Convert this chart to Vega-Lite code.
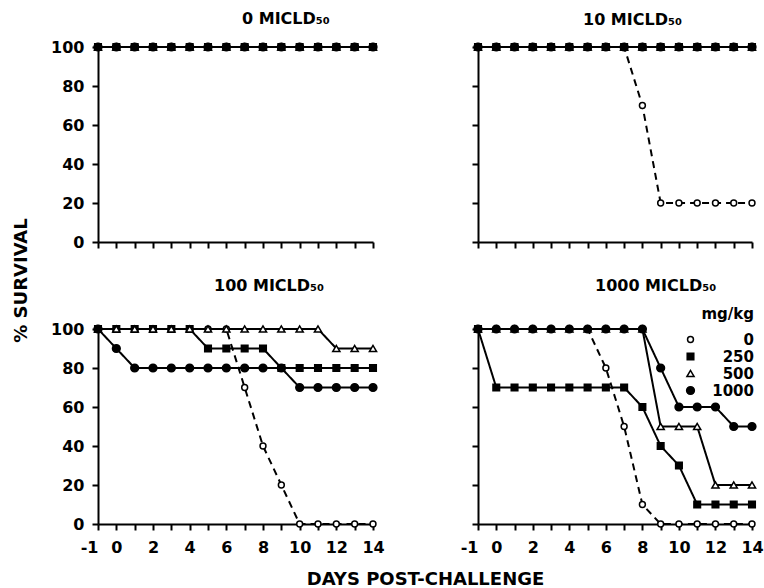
{
  "$schema": "https://vega.github.io/schema/vega-lite/v6.json",
  "background": "white",
  "padding": {"left": 12, "top": 11, "right": 0, "bottom": 5},
  "bounds": "flush",
  "columns": 2,
  "spacing": {"row": 87, "column": 105},
  "config": {
    "view": {"stroke": null},
    "font": "DejaVu Sans",
    "axis": {"domainColor": "black", "domainWidth": 2, "tickColor": "black", "tickWidth": 2, "tickSize": 6, "labelColor": "black", "labelFont": "DejaVu Sans", "labelFontSize": 16, "labelFontWeight": "bold", "grid": false, "titleColor": "black", "titleFont": "DejaVu Sans", "titleFontSize": 18, "titleFontWeight": "bold"},
    "axisY": {"labelPadding": 8},
    "axisX": {"labelPadding": 9},
    "title": {"font": "DejaVu Sans", "fontSize": 16, "fontWeight": "bold", "color": "black", "anchor": "start", "frame": "group"},
    "legend": {"labelFont": "DejaVu Sans", "labelFontSize": 15, "labelFontWeight": "bold", "labelColor": "black", "titleFont": "DejaVu Sans", "titleFontSize": 15, "titleFontWeight": "bold", "titleColor": "black", "symbolStrokeColor": "black", "symbolStrokeWidth": 1.5}
  },
  "resolve": {
    "scale": {"shape": "independent", "fill": "independent", "size": "independent", "stroke": "independent", "strokeDash": "independent"},
    "legend": {"shape": "independent", "fill": "independent", "size": "independent", "stroke": "independent", "strokeDash": "independent"}
  },
  "datasets": {
    "A": [
      {"g":"0","d":-1,"s":100},{"g":"0","d":0,"s":100},{"g":"0","d":1,"s":100},{"g":"0","d":2,"s":100},{"g":"0","d":3,"s":100},{"g":"0","d":4,"s":100},{"g":"0","d":5,"s":100},{"g":"0","d":6,"s":100},{"g":"0","d":7,"s":100},{"g":"0","d":8,"s":100},{"g":"0","d":9,"s":100},{"g":"0","d":10,"s":100},{"g":"0","d":11,"s":100},{"g":"0","d":12,"s":100},{"g":"0","d":13,"s":100},{"g":"0","d":14,"s":100},
      {"g":"250","d":-1,"s":100},{"g":"250","d":0,"s":100},{"g":"250","d":1,"s":100},{"g":"250","d":2,"s":100},{"g":"250","d":3,"s":100},{"g":"250","d":4,"s":100},{"g":"250","d":5,"s":100},{"g":"250","d":6,"s":100},{"g":"250","d":7,"s":100},{"g":"250","d":8,"s":100},{"g":"250","d":9,"s":100},{"g":"250","d":10,"s":100},{"g":"250","d":11,"s":100},{"g":"250","d":12,"s":100},{"g":"250","d":13,"s":100},{"g":"250","d":14,"s":100},
      {"g":"500","d":-1,"s":100},{"g":"500","d":0,"s":100},{"g":"500","d":1,"s":100},{"g":"500","d":2,"s":100},{"g":"500","d":3,"s":100},{"g":"500","d":4,"s":100},{"g":"500","d":5,"s":100},{"g":"500","d":6,"s":100},{"g":"500","d":7,"s":100},{"g":"500","d":8,"s":100},{"g":"500","d":9,"s":100},{"g":"500","d":10,"s":100},{"g":"500","d":11,"s":100},{"g":"500","d":12,"s":100},{"g":"500","d":13,"s":100},{"g":"500","d":14,"s":100},
      {"g":"1000","d":-1,"s":100},{"g":"1000","d":0,"s":100},{"g":"1000","d":1,"s":100},{"g":"1000","d":2,"s":100},{"g":"1000","d":3,"s":100},{"g":"1000","d":4,"s":100},{"g":"1000","d":5,"s":100},{"g":"1000","d":6,"s":100},{"g":"1000","d":7,"s":100},{"g":"1000","d":8,"s":100},{"g":"1000","d":9,"s":100},{"g":"1000","d":10,"s":100},{"g":"1000","d":11,"s":100},{"g":"1000","d":12,"s":100},{"g":"1000","d":13,"s":100},{"g":"1000","d":14,"s":100}
    ],
    "B": [
      {"g":"0","d":-1,"s":100},{"g":"0","d":0,"s":100},{"g":"0","d":1,"s":100},{"g":"0","d":2,"s":100},{"g":"0","d":3,"s":100},{"g":"0","d":4,"s":100},{"g":"0","d":5,"s":100},{"g":"0","d":6,"s":100},{"g":"0","d":7,"s":100},{"g":"0","d":8,"s":70},{"g":"0","d":9,"s":20},{"g":"0","d":10,"s":20},{"g":"0","d":11,"s":20},{"g":"0","d":12,"s":20},{"g":"0","d":13,"s":20},{"g":"0","d":14,"s":20},
      {"g":"250","d":-1,"s":100},{"g":"250","d":0,"s":100},{"g":"250","d":1,"s":100},{"g":"250","d":2,"s":100},{"g":"250","d":3,"s":100},{"g":"250","d":4,"s":100},{"g":"250","d":5,"s":100},{"g":"250","d":6,"s":100},{"g":"250","d":7,"s":100},{"g":"250","d":8,"s":100},{"g":"250","d":9,"s":100},{"g":"250","d":10,"s":100},{"g":"250","d":11,"s":100},{"g":"250","d":12,"s":100},{"g":"250","d":13,"s":100},{"g":"250","d":14,"s":100},
      {"g":"500","d":-1,"s":100},{"g":"500","d":0,"s":100},{"g":"500","d":1,"s":100},{"g":"500","d":2,"s":100},{"g":"500","d":3,"s":100},{"g":"500","d":4,"s":100},{"g":"500","d":5,"s":100},{"g":"500","d":6,"s":100},{"g":"500","d":7,"s":100},{"g":"500","d":8,"s":100},{"g":"500","d":9,"s":100},{"g":"500","d":10,"s":100},{"g":"500","d":11,"s":100},{"g":"500","d":12,"s":100},{"g":"500","d":13,"s":100},{"g":"500","d":14,"s":100},
      {"g":"1000","d":-1,"s":100},{"g":"1000","d":0,"s":100},{"g":"1000","d":1,"s":100},{"g":"1000","d":2,"s":100},{"g":"1000","d":3,"s":100},{"g":"1000","d":4,"s":100},{"g":"1000","d":5,"s":100},{"g":"1000","d":6,"s":100},{"g":"1000","d":7,"s":100},{"g":"1000","d":8,"s":100},{"g":"1000","d":9,"s":100},{"g":"1000","d":10,"s":100},{"g":"1000","d":11,"s":100},{"g":"1000","d":12,"s":100},{"g":"1000","d":13,"s":100},{"g":"1000","d":14,"s":100}
    ],
    "C": [
      {"g":"0","d":-1,"s":100},{"g":"0","d":0,"s":100},{"g":"0","d":1,"s":100},{"g":"0","d":2,"s":100},{"g":"0","d":3,"s":100},{"g":"0","d":4,"s":100},{"g":"0","d":5,"s":100},{"g":"0","d":6,"s":100},{"g":"0","d":7,"s":70},{"g":"0","d":8,"s":40},{"g":"0","d":9,"s":20},{"g":"0","d":10,"s":0},{"g":"0","d":11,"s":0},{"g":"0","d":12,"s":0},{"g":"0","d":13,"s":0},{"g":"0","d":14,"s":0},
      {"g":"250","d":-1,"s":100},{"g":"250","d":0,"s":100},{"g":"250","d":1,"s":100},{"g":"250","d":2,"s":100},{"g":"250","d":3,"s":100},{"g":"250","d":4,"s":100},{"g":"250","d":5,"s":90},{"g":"250","d":6,"s":90},{"g":"250","d":7,"s":90},{"g":"250","d":8,"s":90},{"g":"250","d":9,"s":80},{"g":"250","d":10,"s":80},{"g":"250","d":11,"s":80},{"g":"250","d":12,"s":80},{"g":"250","d":13,"s":80},{"g":"250","d":14,"s":80},
      {"g":"500","d":-1,"s":100},{"g":"500","d":0,"s":100},{"g":"500","d":1,"s":100},{"g":"500","d":2,"s":100},{"g":"500","d":3,"s":100},{"g":"500","d":4,"s":100},{"g":"500","d":5,"s":100},{"g":"500","d":6,"s":100},{"g":"500","d":7,"s":100},{"g":"500","d":8,"s":100},{"g":"500","d":9,"s":100},{"g":"500","d":10,"s":100},{"g":"500","d":11,"s":100},{"g":"500","d":12,"s":90},{"g":"500","d":13,"s":90},{"g":"500","d":14,"s":90},
      {"g":"1000","d":-1,"s":100},{"g":"1000","d":0,"s":90},{"g":"1000","d":1,"s":80},{"g":"1000","d":2,"s":80},{"g":"1000","d":3,"s":80},{"g":"1000","d":4,"s":80},{"g":"1000","d":5,"s":80},{"g":"1000","d":6,"s":80},{"g":"1000","d":7,"s":80},{"g":"1000","d":8,"s":80},{"g":"1000","d":9,"s":80},{"g":"1000","d":10,"s":70},{"g":"1000","d":11,"s":70},{"g":"1000","d":12,"s":70},{"g":"1000","d":13,"s":70},{"g":"1000","d":14,"s":70}
    ],
    "D": [
      {"g":"0","d":-1,"s":100},{"g":"0","d":0,"s":100},{"g":"0","d":1,"s":100},{"g":"0","d":2,"s":100},{"g":"0","d":3,"s":100},{"g":"0","d":4,"s":100},{"g":"0","d":5,"s":100},{"g":"0","d":6,"s":80},{"g":"0","d":7,"s":50},{"g":"0","d":8,"s":10},{"g":"0","d":9,"s":0},{"g":"0","d":10,"s":0},{"g":"0","d":11,"s":0},{"g":"0","d":12,"s":0},{"g":"0","d":13,"s":0},{"g":"0","d":14,"s":0},
      {"g":"250","d":-1,"s":100},{"g":"250","d":0,"s":70},{"g":"250","d":1,"s":70},{"g":"250","d":2,"s":70},{"g":"250","d":3,"s":70},{"g":"250","d":4,"s":70},{"g":"250","d":5,"s":70},{"g":"250","d":6,"s":70},{"g":"250","d":7,"s":70},{"g":"250","d":8,"s":60},{"g":"250","d":9,"s":40},{"g":"250","d":10,"s":30},{"g":"250","d":11,"s":10},{"g":"250","d":12,"s":10},{"g":"250","d":13,"s":10},{"g":"250","d":14,"s":10},
      {"g":"500","d":-1,"s":100},{"g":"500","d":0,"s":100},{"g":"500","d":1,"s":100},{"g":"500","d":2,"s":100},{"g":"500","d":3,"s":100},{"g":"500","d":4,"s":100},{"g":"500","d":5,"s":100},{"g":"500","d":6,"s":100},{"g":"500","d":7,"s":100},{"g":"500","d":8,"s":100},{"g":"500","d":9,"s":50},{"g":"500","d":10,"s":50},{"g":"500","d":11,"s":50},{"g":"500","d":12,"s":20},{"g":"500","d":13,"s":20},{"g":"500","d":14,"s":20},
      {"g":"1000","d":-1,"s":100},{"g":"1000","d":0,"s":100},{"g":"1000","d":1,"s":100},{"g":"1000","d":2,"s":100},{"g":"1000","d":3,"s":100},{"g":"1000","d":4,"s":100},{"g":"1000","d":5,"s":100},{"g":"1000","d":6,"s":100},{"g":"1000","d":7,"s":100},{"g":"1000","d":8,"s":100},{"g":"1000","d":9,"s":80},{"g":"1000","d":10,"s":60},{"g":"1000","d":11,"s":60},{"g":"1000","d":12,"s":60},{"g":"1000","d":13,"s":50},{"g":"1000","d":14,"s":50}
    ]
  },
  "concat": [
    {
      "width": 275, "height": 195,
      "data": {"name": "A"},
      "title": {"text": "0 MICLD₅₀", "dx": 144, "offset": 12},
      "encoding": {
        "x": {"field": "d", "type": "quantitative", "scale": {"domain": [-1, 14], "nice": false, "zero": false}, "axis": {"values": [-1,0,1,2,3,4,5,6,7,8,9,10,11,12,13,14], "labels": false, "title": null}},
        "y": {"field": "s", "type": "quantitative", "scale": {"domain": [0, 100], "nice": false}, "axis": {"values": [0,20,40,60,80,100], "title": "% SURVIVAL", "titleX": -77, "titleY": 233, "titleAngle": -90, "titleAlign": "center", "titleBaseline": "middle"}}
      },
      "layer": [
        {"mark": {"type": "line", "stroke": "black", "strokeWidth": 2}, "encoding": {"strokeDash": {"field": "g", "type": "nominal", "scale": {"domain": ["1000","500","250","0"], "range": [[1,0],[1,0],[1,0],[7,5]]}, "legend": null}}},
        {"mark": {"type": "point", "filled": true, "strokeWidth": 1.5, "opacity": 1},
         "encoding": {
           "shape": {"field": "g", "type": "nominal", "scale": {"domain": ["0","250","500","1000"], "range": ["circle","square","triangle-up","circle"]}, "legend": null},
           "fill": {"field": "g", "type": "nominal", "scale": {"domain": ["0","250","500","1000"], "range": ["white","black","white","black"]}, "legend": null},
           "stroke": {"field": "g", "type": "nominal", "scale": {"domain": ["0","250","500","1000"], "range": ["black","black","black","black"]}, "legend": null},
           "size": {"field": "g", "type": "nominal", "scale": {"domain": ["0","250","500","1000"], "range": [35,60,60,65]}, "legend": null}
         }}
      ]
    },
    {
      "width": 274, "height": 195,
      "data": {"name": "B"},
      "title": {"text": "10 MICLD₅₀", "dx": 105, "offset": 12},
      "encoding": {
        "x": {"field": "d", "type": "quantitative", "scale": {"domain": [-1, 14], "nice": false, "zero": false}, "axis": {"values": [-1,0,1,2,3,4,5,6,7,8,9,10,11,12,13,14], "labels": false, "title": null}},
        "y": {"field": "s", "type": "quantitative", "scale": {"domain": [0, 100], "nice": false}, "axis": {"values": [0,20,40,60,80,100], "labels": false, "title": null}}
      },
      "layer": [
        {"mark": {"type": "line", "stroke": "black", "strokeWidth": 2}, "encoding": {"strokeDash": {"field": "g", "type": "nominal", "scale": {"domain": ["1000","500","250","0"], "range": [[1,0],[1,0],[1,0],[7,5]]}, "legend": null}}},
        {"mark": {"type": "point", "filled": true, "strokeWidth": 1.5, "opacity": 1},
         "encoding": {
           "shape": {"field": "g", "type": "nominal", "scale": {"domain": ["0","250","500","1000"], "range": ["circle","square","triangle-up","circle"]}, "legend": null},
           "fill": {"field": "g", "type": "nominal", "scale": {"domain": ["0","250","500","1000"], "range": ["white","black","white","black"]}, "legend": null},
           "stroke": {"field": "g", "type": "nominal", "scale": {"domain": ["0","250","500","1000"], "range": ["black","black","black","black"]}, "legend": null},
           "size": {"field": "g", "type": "nominal", "scale": {"domain": ["0","250","500","1000"], "range": [35,60,60,65]}, "legend": null}
         }}
      ]
    },
    {
      "width": 275, "height": 195,
      "data": {"name": "C"},
      "title": {"text": "100 MICLD₅₀", "dx": 116, "offset": 27},
      "encoding": {
        "x": {"field": "d", "type": "quantitative", "scale": {"domain": [-1, 14], "nice": false, "zero": false}, "axis": {"values": [-1,0,1,2,3,4,5,6,7,8,9,10,11,12,13,14], "labelExpr": "datum.value == -1 ? '-1' : (datum.value % 2 == 0 ? datum.label : '')", "labelAlign": {"condition": {"test": "datum.value == -1", "value": "right"}, "value": "center"}, "labelFlush": false, "labelOverlap": false, "title": "DAYS POST-CHALLENGE", "titleX": 327, "titleY": 60, "titleAlign": "center", "titleBaseline": "alphabetic"}},
        "y": {"field": "s", "type": "quantitative", "scale": {"domain": [0, 100], "nice": false}, "axis": {"values": [0,20,40,60,80,100], "title": null}}
      },
      "layer": [
        {"mark": {"type": "line", "stroke": "black", "strokeWidth": 2}, "encoding": {"strokeDash": {"field": "g", "type": "nominal", "scale": {"domain": ["1000","500","250","0"], "range": [[1,0],[1,0],[1,0],[7,5]]}, "legend": null}}},
        {"mark": {"type": "point", "filled": true, "strokeWidth": 1.5, "opacity": 1},
         "encoding": {
           "shape": {"field": "g", "type": "nominal", "scale": {"domain": ["0","250","500","1000"], "range": ["circle","square","triangle-up","circle"]}, "legend": null},
           "fill": {"field": "g", "type": "nominal", "scale": {"domain": ["0","250","500","1000"], "range": ["white","black","white","black"]}, "legend": null},
           "stroke": {"field": "g", "type": "nominal", "scale": {"domain": ["0","250","500","1000"], "range": ["black","black","black","black"]}, "legend": null},
           "size": {"field": "g", "type": "nominal", "scale": {"domain": ["0","250","500","1000"], "range": [35,60,60,65]}, "legend": null}
         }}
      ]
    },
    {
      "width": 274, "height": 195,
      "data": {"name": "D"},
      "title": {"text": "1000 MICLD₅₀", "dx": 117, "offset": 13},
      "encoding": {
        "x": {"field": "d", "type": "quantitative", "scale": {"domain": [-1, 14], "nice": false, "zero": false}, "axis": {"values": [-1,0,1,2,3,4,5,6,7,8,9,10,11,12,13,14], "labelExpr": "datum.value == -1 ? '-1' : (datum.value % 2 == 0 ? datum.label : '')", "labelAlign": {"condition": {"test": "datum.value == -1", "value": "right"}, "value": "center"}, "labelFlush": false, "labelOverlap": false, "title": null}},
        "y": {"field": "s", "type": "quantitative", "scale": {"domain": [0, 100], "nice": false}, "axis": {"values": [0,20,40,60,80,100], "labels": false, "title": null}}
      },
      "layer": [
        {"mark": {"type": "line", "stroke": "black", "strokeWidth": 2}, "encoding": {"strokeDash": {"field": "g", "type": "nominal", "scale": {"domain": ["1000","500","250","0"], "range": [[1,0],[1,0],[1,0],[7,5]]}, "legend": null}}},
        {"mark": {"type": "point", "filled": true, "strokeWidth": 1.5, "opacity": 1},
         "encoding": {
           "shape": {"field": "g", "type": "nominal", "scale": {"domain": ["0","250","500","1000"], "range": ["circle","square","triangle-up","circle"]}, "legend": {"title": "mg/kg", "orient": "none", "legendX": 205, "legendY": -22, "labelAlign": "right", "labelOffset": 56, "titleAnchor": "end", "titlePadding": 10, "rowPadding": 1}},
           "fill": {"field": "g", "type": "nominal", "scale": {"domain": ["0","250","500","1000"], "range": ["white","black","white","black"]}, "legend": {"title": "mg/kg", "orient": "none", "legendX": 205, "legendY": -22, "labelAlign": "right", "labelOffset": 56, "titleAnchor": "end", "titlePadding": 10, "rowPadding": 1}},
           "stroke": {"field": "g", "type": "nominal", "scale": {"domain": ["0","250","500","1000"], "range": ["black","black","black","black"]}, "legend": {"title": "mg/kg", "orient": "none", "legendX": 205, "legendY": -22, "labelAlign": "right", "labelOffset": 56, "titleAnchor": "end", "titlePadding": 10, "rowPadding": 1}},
           "size": {"field": "g", "type": "nominal", "scale": {"domain": ["0","250","500","1000"], "range": [35,60,60,65]}, "legend": {"title": "mg/kg", "orient": "none", "legendX": 205, "legendY": -22, "labelAlign": "right", "labelOffset": 56, "titleAnchor": "end", "titlePadding": 10, "rowPadding": 1}}
         }}
      ]
    }
  ]
}
